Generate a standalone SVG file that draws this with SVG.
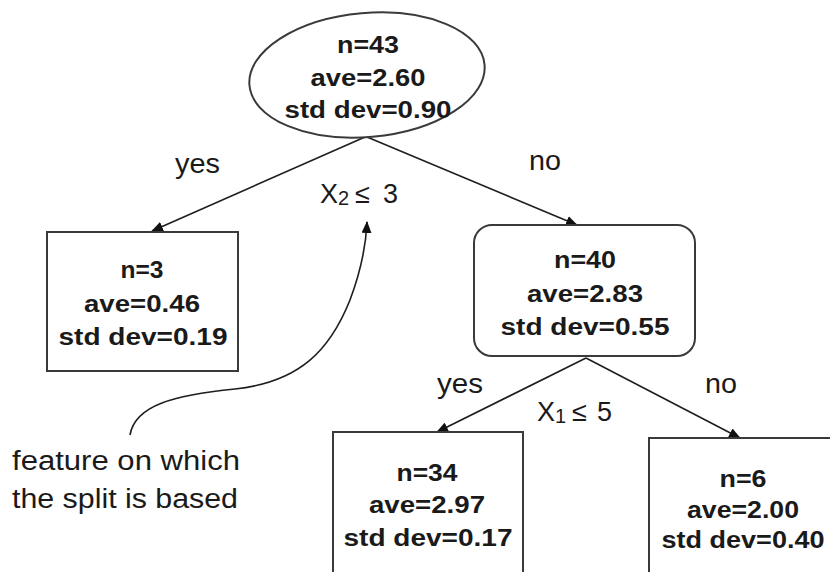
<svg xmlns="http://www.w3.org/2000/svg" width="830" height="572" viewBox="0 0 830 572">
  <style>
    .node { fill: #ffffff; stroke: #3a3a3a; stroke-width: 2; }
    .stat { font-family: "Liberation Sans", Arial, sans-serif; font-weight: bold; font-size: 23px; fill: #1a1a1a; text-anchor: middle; }
    .lbl { font-family: "Liberation Sans", Arial, sans-serif; font-size: 27px; fill: #1a1a1a; }
    .edge { fill: none; stroke: #1e1e1e; stroke-width: 1.6; }
  </style>
  <defs>
    <marker id="tip" viewBox="0 0 12 10" refX="11" refY="5" markerWidth="12" markerHeight="10" markerUnits="userSpaceOnUse" orient="auto">
      <path d="M0,0 L12,5 L0,10 Z" fill="#111"/>
    </marker>
  </defs>
  <rect width="830" height="572" fill="#ffffff"/>

  <!-- connectors -->
  <g id="connectors">
    <line class="edge" x1="365" y1="137" x2="152" y2="231" marker-end="url(#tip)"/>
    <line class="edge" x1="367" y1="137" x2="577" y2="225" marker-end="url(#tip)"/>
    <line class="edge" x1="586" y1="358" x2="437" y2="432" marker-end="url(#tip)"/>
    <line class="edge" x1="586" y1="358" x2="740" y2="438" marker-end="url(#tip)"/>
    <path class="edge" d="M130,435 C135,405 175,395 235,389 C300,382 330,350 350,300 C362,268 366,245 367,222" marker-end="url(#tip)"/>
  </g>

  <!-- root: slightly tilted ellipse -->
  <g id="root">
    <ellipse class="node" cx="367" cy="75" rx="118" ry="62" transform="rotate(-5 367 75)"/>
    <text class="stat" x="368" y="53" textLength="62" lengthAdjust="spacingAndGlyphs">n=43</text>
    <text class="stat" x="368" y="86" textLength="115" lengthAdjust="spacingAndGlyphs">ave=2.60</text>
    <text class="stat" x="368" y="118" textLength="167" lengthAdjust="spacingAndGlyphs">std dev=0.90</text>
  </g>

  <!-- left leaf -->
  <g id="leaf-left">
    <rect class="node" x="47" y="232" width="191" height="139"/>
    <text class="stat" x="142" y="278" textLength="43" lengthAdjust="spacingAndGlyphs">n=3</text>
    <text class="stat" x="142" y="312" textLength="116" lengthAdjust="spacingAndGlyphs">ave=0.46</text>
    <text class="stat" x="143" y="345" textLength="169" lengthAdjust="spacingAndGlyphs">std dev=0.19</text>
  </g>

  <!-- inner node: rounded box -->
  <g id="inner">
    <rect class="node" x="474" y="225" width="221" height="131" rx="18" ry="18"/>
    <text class="stat" x="585" y="268" textLength="62" lengthAdjust="spacingAndGlyphs">n=40</text>
    <text class="stat" x="585" y="302" textLength="116" lengthAdjust="spacingAndGlyphs">ave=2.83</text>
    <text class="stat" x="585" y="335" textLength="169" lengthAdjust="spacingAndGlyphs">std dev=0.55</text>
  </g>

  <!-- lower leaves -->
  <g id="leaf-mid">
    <rect class="node" x="333" y="432" width="190" height="160"/>
    <text class="stat" x="427" y="481" textLength="61" lengthAdjust="spacingAndGlyphs">n=34</text>
    <text class="stat" x="427" y="513" textLength="116" lengthAdjust="spacingAndGlyphs">ave=2.97</text>
    <text class="stat" x="428" y="546" textLength="169" lengthAdjust="spacingAndGlyphs">std dev=0.17</text>
  </g>

  <g id="leaf-right">
    <rect class="node" x="649" y="438" width="200" height="150"/>
    <text class="stat" x="743" y="487" textLength="47" lengthAdjust="spacingAndGlyphs">n=6</text>
    <text class="stat" x="743" y="518" textLength="112" lengthAdjust="spacingAndGlyphs">ave=2.00</text>
    <text class="stat" x="743" y="548" textLength="163" lengthAdjust="spacingAndGlyphs">std dev=0.40</text>
  </g>

  <!-- branch labels -->
  <g id="labels">
    <text class="lbl" x="175" y="173" textLength="45" lengthAdjust="spacingAndGlyphs">yes</text>
    <text class="lbl" x="529" y="170" textLength="32" lengthAdjust="spacingAndGlyphs">no</text>
    <text class="lbl" x="437" y="393" textLength="46" lengthAdjust="spacingAndGlyphs">yes</text>
    <text class="lbl" x="705" y="393" textLength="32" lengthAdjust="spacingAndGlyphs">no</text>

    <text class="lbl" y="203"><tspan x="320">X</tspan><tspan x="338" dy="2" font-size="20">2</tspan><tspan x="355" dy="-2">≤</tspan><tspan x="383">3</tspan></text>
    <text class="lbl" y="421"><tspan x="537">X</tspan><tspan x="555" dy="2" font-size="20">1</tspan><tspan x="572" dy="-2">≤</tspan><tspan x="597">5</tspan></text>

    <text class="lbl" x="12" y="470" textLength="228" lengthAdjust="spacingAndGlyphs">feature on which</text>
    <text class="lbl" x="12" y="508" textLength="226" lengthAdjust="spacingAndGlyphs">the split is based</text>
  </g>
</svg>
